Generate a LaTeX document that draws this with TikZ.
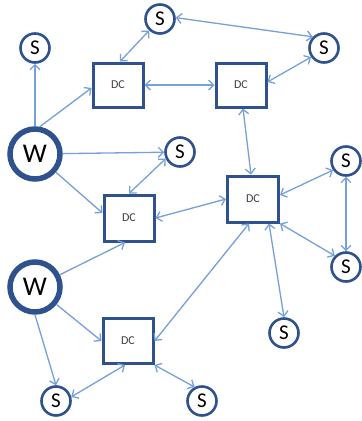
\documentclass[tikz,border=0pt]{standalone}
\usepackage{fontspec}
\setmainfont{Carlito}
\usetikzlibrary{arrows.meta}
\definecolor{lnk}{RGB}{118,160,216}
\definecolor{bdr}{RGB}{47,82,143}
\definecolor{txt}{RGB}{64,64,64}
\begin{document}
\begin{tikzpicture}[x=1pt,y=-1pt,
  snode/.style={circle,draw=bdr,line width=2.6pt,fill=white,minimum size=29pt,inner sep=0pt,font=\fontsize{21}{21}\selectfont},
  wnode/.style={circle,draw=bdr,line width=5.5pt,fill=white,minimum size=50pt,inner sep=0pt,font=\fontsize{27}{27}\selectfont},
  dcnode/.style={rectangle,draw=bdr,line width=3pt,fill=white,minimum width=50pt,minimum height=44pt,inner sep=0pt,font=\fontsize{12}{12}\selectfont,text=txt},
  tip/.tip={Straight Barb[length=5pt,width=10pt]},
  link/.style={draw=lnk,line width=1.3pt,-tip},
  both/.style={draw=lnk,line width=1.3pt,tip-tip}]
\useasboundingbox[fill=white] (0,0) rectangle (362,421);
% nodes
\node[snode] (S1) at (35,48) {S};
\node[snode] (S2) at (160,19) {S};
\node[snode] (S3) at (324,48) {S};
\node[dcnode] (DC1) at (118,85) {DC};
\node[dcnode] (DC2) at (241,85) {DC};
\node[wnode] (W1) at (35,154) {W};
\node[snode] (S4) at (180,152) {S};
\node[dcnode,minimum height=46pt] (DC3) at (129,218) {DC};
\node[dcnode,minimum width=51pt,minimum height=46pt] (DC4) at (253,199) {DC};
\node[snode] (S5) at (346,161) {S};
\node[snode] (S6) at (346,267) {S};
\node[snode] (S7) at (284,333) {S};
\node[wnode] (W2) at (35,287) {W};
\node[dcnode,minimum height=45pt] (DC5) at (128,341) {DC};
\node[snode] (S8) at (56,401) {S};
\node[snode] (S9) at (202,401) {S};
% connectors
\draw[link] (W1.north) -- (S1.south);
\draw[link] (W1.80) -- ([yshift=-3pt]DC1.west);
\draw[link] (W1) -- (S4);
\draw[link] (W1) -- ([yshift=5pt]DC3.west);
\draw[both] ([xshift=2pt]DC1.north) -- (S2);
\draw[both] (DC1.east) -- (DC2.west);
\draw[both] (S2.5) -- (S3.135);
\draw[both] ([yshift=3pt]DC2.east) -- (S3.215);
\draw[both] ([xshift=2pt]DC2.south) -- ([xshift=-2pt]DC4.north);
\draw[both] (S4.205) -- (DC3.north);
\draw[both] (DC3.east) -- (DC4.west);
\draw[both] ([yshift=4pt]DC4.east) -- (S5.215);
\draw[both] (S5.south) -- (S6.north);
\draw[both] (DC4.south east) -- (S6.135);
\draw[both] ([xshift=16pt]DC4.south) -- (S7.north);
\draw[link] (W2) -- ([xshift=-4pt]DC3.south);
\draw[link] (W2) -- (DC5.west);
\draw[link] (W2.south) -- (S8.north);
\draw[both] ([xshift=-3pt]DC5.south) -- (S8.15);
\draw[both] (DC5.east) -- ([xshift=-4pt]DC4.south);
\draw[both] (DC5.south east) -- (S9.118);
\end{tikzpicture}
\end{document}
